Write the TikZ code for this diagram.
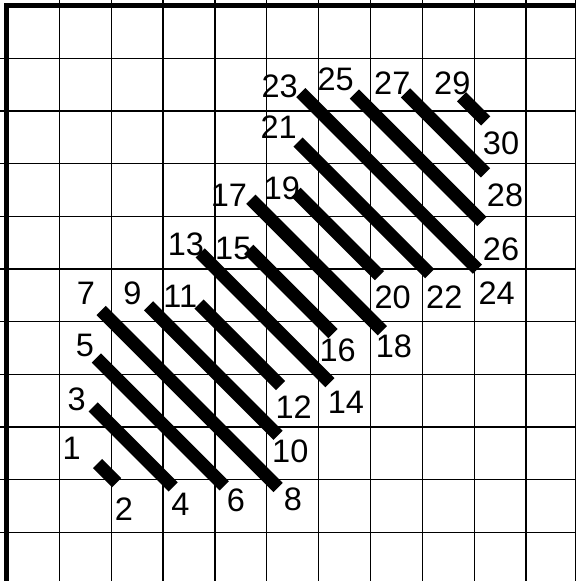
\documentclass[tikz,border=0pt]{standalone}
\usepackage{fontspec}
\setmainfont{Liberation Sans}
\begin{document}
\begin{tikzpicture}[x=1pt,y=-1pt,
  gridline/.style={line width=1.3pt,black},
  borderline/.style={line width=5pt,black},
  stitchline/.style={line width=13pt,black,line cap=butt},
  lbl/.style={inner sep=0pt,font=\fontsize{32.5}{34}\selectfont}]
\useasboundingbox (0,0) rectangle (576,581);
\fill[white] (0,0) rectangle (576,581);
% grid
\foreach \gx in {59.3,111.16,163.02,214.88,266.74,318.6,370.46,422.32,474.18,526.04,575.5}
  \draw[gridline] (\gx,0) -- (\gx,581);
\foreach \gy in {58.3,110.97,163.64,216.31,268.98,321.65,374.32,426.99,479.66,532.33}
  \draw[gridline] (0,\gy) -- (576,\gy);
\draw[borderline] (6.5,581) -- (6.5,3) ;
\draw[borderline] (4,5.5) -- (576,5.5);
% stitches
\foreach \n/\sx/\sy/\ex/\ey in {
  1/97.5/463.5/116.65/482.65,
  2/93.1/406.9/173.1/486.9,
  3/96.35/357.95/224.2/485.8,
  4/101.15/310.55/278.1/487.5,
  5/148.55/305.75/278.05/435.25,
  6/199/304/280.5/385.5,
  7/200.1/252.9/329.85/382.65,
  8/248.7/249.3/333/333.6,
  9/250.8/199.2/382.3/330.7,
  10/296.05/192.25/379.4/275.6,
  11/298/142/429.65/273.65,
  12/300.8/92.6/477.4/269.2,
  13/354.4/94/481.85/221.45,
  14/405.5/92.9/485.5/172.9,
  15/461.6/96.8/485.75/120.95}{
  \coordinate (a\n) at (\sx,\sy);
  \coordinate (b\n) at (\ex,\ey);
  \draw[stitchline] (a\n) -- (b\n);
}
% labels
\foreach \t/\lx/\ly in {
  1/71.7/448.3, 2/124/508.7, 3/76.7/399, 4/180.3/504,
  5/85/345.7, 6/236/500, 7/85.8/293.3, 8/293/499,
  9/132.5/293.3, 10/290.3/451.7, 11/180.3/296.7, 12/293.7/406.7,
  13/186/244, 14/346/402.7, 15/233.3/248.3, 16/337.7/350,
  17/229/195.7, 18/394/346.7, 19/282/188, 20/392.7/297.3,
  21/278.7/127.3, 22/444.3/297.3, 23/279.7/86.7, 24/496.7/293.3,
  25/335.7/79, 26/501/249, 27/392.3/83.3, 28/505/195.7,
  29/452.3/83.3, 30/501/143.7}
  \node[lbl] (l\t) at (\lx,\ly) {\t};
\end{tikzpicture}
\end{document}
